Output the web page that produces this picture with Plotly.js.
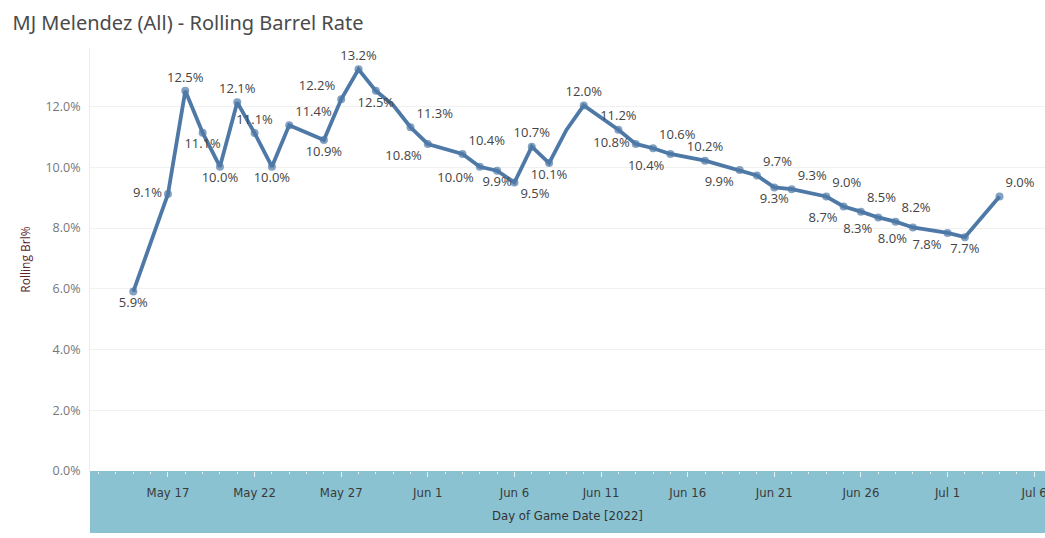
<!DOCTYPE html>
<html>
<head>
<meta charset="utf-8">
<script src="https://cdn.plot.ly/plotly-3.0.1.min.js"></script>
<style>
  html, body { margin: 0; padding: 0; background: #fff; }
  #chart { width: 1045px; height: 538px; }
</style>
</head>
<body>
<div id="chart"></div>
<script>
// ---- Data ----
const gameDates = ['2022-05-15','2022-05-17','2022-05-18','2022-05-19','2022-05-20','2022-05-21','2022-05-22','2022-05-23','2022-05-24','2022-05-26','2022-05-27','2022-05-28','2022-05-29','2022-05-30','2022-05-31','2022-06-01','2022-06-03','2022-06-04','2022-06-05','2022-06-06','2022-06-07','2022-06-08','2022-06-09','2022-06-10','2022-06-12','2022-06-13','2022-06-14','2022-06-15','2022-06-17','2022-06-19','2022-06-20','2022-06-21','2022-06-22','2022-06-24','2022-06-25','2022-06-26','2022-06-27','2022-06-28','2022-06-29','2022-07-01','2022-07-02','2022-07-04'];
const rollingBrlPct = [5.91, 9.12, 12.52, 11.14, 10.02, 12.14, 11.13, 10.02, 11.39, 10.90, 12.24, 13.23, 12.52, 12.05, 11.32, 10.77, 10.44, 10.02, 9.89, 9.50, 10.68, 10.14, 11.23, 12.04, 11.24, 10.77, 10.63, 10.44, 10.22, 9.91, 9.73, 9.34, 9.28, 9.04, 8.71, 8.54, 8.35, 8.21, 8.02, 7.84, 7.70, 9.04];
// Marks whose label Tableau hid (no label, no dot)
const labelHidden = ['2022-05-30', '2022-06-09'];
const xTickVals = ['2022-05-17','2022-05-22','2022-05-27','2022-06-01','2022-06-06','2022-06-11','2022-06-16','2022-06-21','2022-06-26','2022-07-01','2022-07-06'];
const xTickText = ['May 17','May 22','May 27','Jun 1','Jun 6','Jun 11','Jun 16','Jun 21','Jun 26','Jul 1','Jul 6'];
const yTickVals = [0, 2, 4, 6, 8, 10, 12];
const yTickText = ['0.0%','2.0%','4.0%','6.0%','8.0%','10.0%','12.0%'];

// ---- Label placement (style) ----
const labelPos = ['bottom center','middle left','top center','bottom center','bottom center','top center','top center','bottom center','top right','bottom center','top left','top center','bottom center','top center','top right','bottom left','top right','bottom left','bottom center','bottom right','top center','bottom center','top center','top center','top center','middle left','top right','bottom left','top center','bottom left','top right','bottom center','top right','top right','bottom left','top right','bottom left','top right','bottom left','bottom left','bottom center','top right'];

const labels = gameDates.map((d, i) => labelHidden.includes(d) ? '' : rollingBrlPct[i].toFixed(1) + '%');
const markerSizes = gameDates.map(d => labelHidden.includes(d) ? 0 : 8);

const condensed = '"Liberation Sans Narrow", "DejaVu Sans Condensed", "Arial Narrow", sans-serif';
const blue = '#4e79a7';

const trace = {
  x: gameDates,
  y: rollingBrlPct,
  type: 'scatter',
  mode: 'lines+markers+text',
  line: { color: blue, width: 3.8 },
  marker: { color: blue, size: markerSizes, line: { width: 0 } },
  text: labels,
  textposition: labelPos,
  textfont: { family: '"Open Sans", sans-serif', size: 13, color: '#444' },
  cliponaxis: false,
  hoverinfo: 'x+y'
};

const plotH = 538 - 48 - 67;
const layout = {
  width: 1045,
  height: 538,
  margin: { l: 90, r: 0, t: 48, b: 67, pad: 0 },
  paper_bgcolor: '#ffffff',
  plot_bgcolor: '#ffffff',
  showlegend: false,
  title: {
    text: 'MJ Melendez (All) - Rolling Barrel Rate',
    x: 0.012, xanchor: 'left',
    y: 0.958, yanchor: 'middle',
    font: { family: '"Noto Sans", sans-serif', size: 20, color: '#4a4a4a' }
  },
  xaxis: {
    type: 'date',
    range: ['2022-05-12 12:00', '2022-07-06 15:00'],
    tickvals: xTickVals,
    ticktext: xTickText,
    ticklabeloverflow: 'allow',
    ticks: 'outside',
    ticklen: 5,
    tickwidth: 1,
    tickcolor: '#e6f2f5',
    minor: { dtick: 86400000, ticks: 'outside', ticklen: 2, tickcolor: '#e6f2f5', tickwidth: 1, showgrid: false },
    tickfont: { family: condensed, size: 13, color: '#3a3a3a' },
    ticklabelstandoff: 4,
    showgrid: false,
    zeroline: false,
    showline: false,
    title: {
      text: 'Day of Game Date [2022]',
      font: { family: condensed, size: 13, color: '#333' },
      standoff: 12
    }
  },
  yaxis: {
    range: [0, 13.93],
    tickvals: yTickVals,
    ticktext: yTickText,
    tickfont: { family: '"Open Sans", sans-serif', size: 12.5, color: '#777' },
    ticks: '',
    ticklabelstandoff: 6,
    showgrid: true,
    gridcolor: '#f0f0f0',
    gridwidth: 1,
    zeroline: false,
    showline: true,
    linecolor: '#ececec',
    linewidth: 1,
    title: {
      text: 'Rolling Brl%',
      font: { family: '"Open Sans", sans-serif', size: 12, color: '#5a2626' },
      standoff: 12
    }
  },
  shapes: [{
    type: 'rect', xref: 'paper', yref: 'paper',
    x0: 0, x1: 1, y0: -62 / plotH, y1: 0,
    fillcolor: '#8ac2d1', line: { width: 0 }, layer: 'below'
  }]
};

Plotly.newPlot('chart', [trace], layout, { displayModeBar: false, staticPlot: true });
</script>
</body>
</html>
